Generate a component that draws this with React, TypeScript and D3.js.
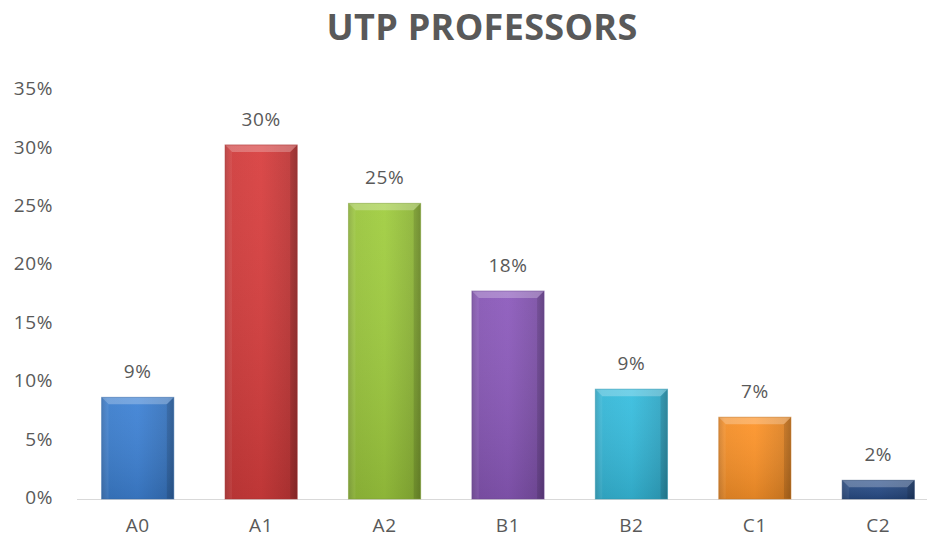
import React, { useRef, useEffect } from "react";
import * as d3 from "d3";

const categories = ["A0", "A1", "A2", "B1", "B2", "C1", "C2"];
const values = [0.087, 0.303, 0.253, 0.178, 0.094, 0.07, 0.016];
const dataLabels = ["9%", "30%", "25%", "18%", "9%", "7%", "2%"];
const barColors = ["#3b7dcc", "#cf3b3b", "#99c43c", "#8656b4", "#35b6d6", "#f38e27", "#274a82"];
const yTicks = [0, 0.05, 0.1, 0.15, 0.2, 0.25, 0.3, 0.35];

const width = 927;
const height = 538;
const font = "'Open Sans', 'Noto Sans', sans-serif";
const textColor = "#595959";
const labelSize = 19;

const App = () => {
    const canvas = useRef<SVGSVGElement | null>(null);

    useEffect(() => {
        const svg = d3.select(canvas.current);
        svg.selectAll("*").remove();

        const y = d3.scaleLinear().domain([0, 0.35]).range([499, 90]);
        const x = d3
            .scaleBand()
            .domain(categories)
            .range([76, 940])
            .paddingInner(0.415)
            .paddingOuter(0.2075);

        const defs = svg.append("defs");
        barColors.forEach((c, i) => {
            const base = d3.color(c)!;
            const g = defs
                .append("linearGradient")
                .attr("id", "bar" + i)
                .attr("x1", 0).attr("x2", 1).attr("y1", 0).attr("y2", 0);
            g.append("stop").attr("offset", 0).attr("stop-color", base.darker(0.4).toString());
            g.append("stop").attr("offset", 0.08).attr("stop-color", base.toString());
            g.append("stop").attr("offset", 0.5).attr("stop-color", base.brighter(0.12).toString());
            g.append("stop").attr("offset", 0.92).attr("stop-color", base.darker(0.25).toString());
            g.append("stop").attr("offset", 1).attr("stop-color", base.darker(0.6).toString());
            const v = defs
                .append("linearGradient")
                .attr("id", "shade" + i)
                .attr("x1", 0).attr("x2", 0).attr("y1", 0).attr("y2", 1);
            v.append("stop").attr("offset", 0).attr("stop-color", "#fff").attr("stop-opacity", 0.06);
            v.append("stop").attr("offset", 1).attr("stop-color", "#000").attr("stop-opacity", 0.12);
        });

        // title
        svg.append("text")
            .attr("x", 482)
            .attr("y", 40)
            .attr("text-anchor", "middle")
            .attr("font-family", font)
            .attr("font-weight", "bold")
            .attr("font-size", 36)
            .attr("letter-spacing", 0.3)
            .attr("fill", textColor)
            .text("UTP PROFESSORS");

        // y tick labels
        svg.append("g")
            .selectAll("text")
            .data(yTicks)
            .join("text")
            .attr("x", 53)
            .attr("y", (d) => y(d) - 1.5)
            .attr("dy", "0.35em")
            .attr("text-anchor", "end")
            .attr("font-family", font)
            .attr("font-size", labelSize)
            .attr("letter-spacing", 0.6)
            .attr("fill", textColor)
            .text((d) => d3.format(".0%")(d));

        // baseline
        svg.append("line")
            .attr("x1", 77)
            .attr("x2", width)
            .attr("y1", y(0) + 0.5)
            .attr("y2", y(0) + 0.5)
            .attr("stroke", "#d9d9d9")
            .attr("stroke-width", 1.2);

        const bw = x.bandwidth();
        const bars = svg.append("g")
            .selectAll("g")
            .data(values)
            .join("g")
            .attr("transform", (d, i) => `translate(${x(categories[i])},${y(d)})`);

        bars.append("rect")
            .attr("width", bw)
            .attr("height", (d) => y(0) - y(d))
            .attr("fill", (d, i) => `url(#bar${i})`);
        bars.append("rect")
            .attr("width", bw)
            .attr("height", (d) => y(0) - y(d))
            .attr("fill", (d, i) => `url(#shade${i})`);

        // top bevel
        bars.append("path")
            .attr("d", (d) => {
                const b = Math.min(7, (y(0) - y(d)) / 2);
                return `M0,0 L${bw},0 L${bw - b},${b} L${b},${b} Z`;
            })
            .attr("fill", "#fff")
            .attr("opacity", 0.25);
        // side bevels
        bars.append("path")
            .attr("d", (d) => {
                const h = y(0) - y(d);
                const b = Math.min(7, h / 2);
                return `M0,0 L${b},${b} L${b},${h} L0,${h} Z`;
            })
            .attr("fill", "#fff")
            .attr("opacity", 0.06);
        bars.append("path")
            .attr("d", (d) => {
                const h = y(0) - y(d);
                const b = Math.min(7, h / 2);
                return `M${bw},0 L${bw - b},${b} L${bw - b},${h} L${bw},${h} Z`;
            })
            .attr("fill", "#000")
            .attr("opacity", 0.12);
        bars.append("rect")
            .attr("width", bw)
            .attr("height", (d) => y(0) - y(d))
            .attr("fill", "none")
            .attr("stroke", (d, i) => d3.color(barColors[i])!.darker(0.6).toString())
            .attr("stroke-opacity", 0.5)
            .attr("stroke-width", 1);

        // data labels
        svg.append("g")
            .selectAll("text")
            .data(values)
            .join("text")
            .attr("x", (d, i) => x(categories[i])! + bw / 2)
            .attr("y", (d) => y(d) - 19)
            .attr("text-anchor", "middle")
            .attr("font-family", font)
            .attr("font-size", labelSize)
            .attr("letter-spacing", 0.6)
            .attr("fill", textColor)
            .text((d, i) => dataLabels[i]);

        // x labels
        svg.append("g")
            .selectAll("text")
            .data(categories)
            .join("text")
            .attr("x", (d) => x(d)! + bw / 2)
            .attr("y", 532)
            .attr("text-anchor", "middle")
            .attr("font-family", font)
            .attr("font-size", labelSize)
            .attr("letter-spacing", 0.6)
            .attr("fill", textColor)
            .text((d) => d);
    }, []);

    return (
        <svg
            ref={canvas}
            width={width}
            height={height}
            style={{ position: "absolute", left: 0, top: 0, background: "#fff" }}
        />
    );
};

export default App;
